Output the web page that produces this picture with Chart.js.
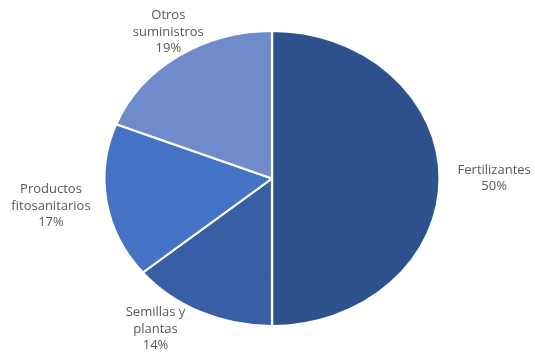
<!DOCTYPE html>
<html>
<head>
<meta charset="utf-8">
<script src="https://cdn.jsdelivr.net/npm/chart.js@4/dist/chart.umd.min.js"></script>
<style>
  html, body { margin: 0; padding: 0; background: #fff; }
  #wrap { width: 535px; height: 358px; }
</style>
</head>
<body>
<div id="wrap"><canvas id="pie"></canvas></div>
<script>
// categorías y valores (%), en el sentido de las agujas del reloj desde arriba
const labels = ['Fertilizantes', 'Semillas y plantas', 'Productos fitosanitarios', 'Otros suministros'];
const values = [50, 14, 17, 19];
// líneas de cada etiqueta tal como aparecen
const labelLines = [
    ['Fertilizantes'],
    ['Semillas y', 'plantas'],
    ['Productos', 'fitosanitarios'],
    ['Otros', 'suministros']
];
const colors = ['#2F528F', '#385EA6', '#4472C4', '#6F8BCB'];

// el pastel original es una elipse un poco más ancha que alta
const STRETCH = 167 / 147;
const FONT = '13px "Open Sans", sans-serif';
const LINE_H = 16.5;

const ellipsePlugin = {
    id: 'ellipse',
    beforeDatasetsDraw(chart) {
        const arc = chart.getDatasetMeta(0).data[0];
        const ctx = chart.ctx;
        ctx.save();
        ctx.translate(arc.x, 0);
        ctx.scale(STRETCH, 1);
        ctx.translate(-arc.x, 0);
    },
    afterDatasetsDraw(chart) {
        chart.ctx.restore();
    }
};

const labelPlugin = {
    id: 'outsideLabels',
    afterDraw(chart) {
        const ctx = chart.ctx;
        const meta = chart.getDatasetMeta(0);
        ctx.save();
        ctx.font = FONT;
        ctx.fillStyle = '#595959';
        ctx.textAlign = 'center';
        ctx.textBaseline = 'middle';
        meta.data.forEach((arc, i) => {
            const mid = (arc.startAngle + arc.endAngle) / 2;
            const cos = Math.cos(mid), sin = Math.sin(mid);
            const rx = arc.outerRadius * STRETCH, ry = arc.outerRadius;
            // punto del borde de la elipse en el ángulo medio
            const ax = arc.x + cos * rx;
            const ay = arc.y + sin * ry;
            const lines = labelLines[i].concat([values[i] + '%']);
            const w = Math.max(...lines.map(l => ctx.measureText(l).width));
            const h = lines.length * LINE_H;
            // cerca de arriba/abajo la etiqueta queda casi centrada sobre el borde
            let bx = ax + Math.pow(cos, 3) * (w / 2 + 18);
            let by = ay + sin * (h / 2 + 5);
            // si la etiqueta se sale por abajo, se sube y se corre hacia fuera
            const over = by + h / 2 - chart.height;
            if (over > 0) {
                by -= over + 4;
                bx += Math.sign(cos) * (over + 4) * 4.3;
            }
            lines.forEach((l, k) => {
                ctx.fillText(l, bx, by - h / 2 + LINE_H * (k + 0.5));
            });
        });
        ctx.restore();
    }
};

new Chart(document.getElementById('pie'), {
    type: 'pie',
    data: {
        labels: labels,
        datasets: [{
            data: values,
            backgroundColor: colors,
            borderColor: '#ffffff',
            borderWidth: 2
        }]
    },
    options: {
        responsive: true,
        maintainAspectRatio: false,
        animation: false,
        layout: { padding: { top: 30, bottom: 31, left: 9, right: 0 } },
        plugins: {
            legend: { display: false },
            tooltip: { enabled: false }
        }
    },
    plugins: [ellipsePlugin, labelPlugin]
});
</script>
</body>
</html>
